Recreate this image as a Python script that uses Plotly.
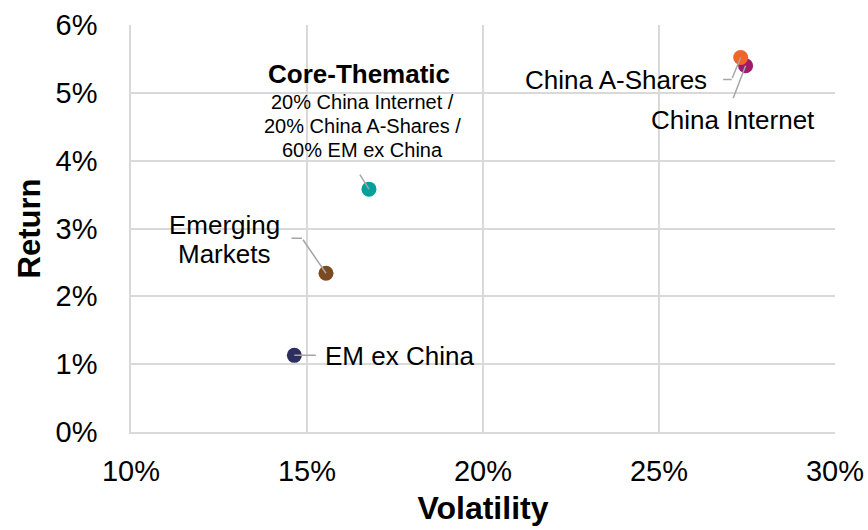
import plotly.graph_objects as go

names = ["EM ex China", "Emerging Markets", "Core-Thematic", "China Internet", "China A-Shares"]
volatility = [14.64, 15.54, 16.76, 27.46, 27.32]
returns = [1.13, 2.34, 3.58, 5.40, 5.52]
colors = ["#2E2D5F", "#7B4A20", "#00A19A", "#9C1C6B", "#F0662A"]

x_ticks = [10, 15, 20, 25, 30]
y_ticks = [0, 1, 2, 3, 4, 5, 6]

FONT = "Liberation Sans, Arial, sans-serif"
LINE = "#A6A6A6"
GRID = "#D9D9D9"

fig = go.Figure()
for n, xv, yv, c in zip(names, volatility, returns, colors):
    fig.add_trace(go.Scatter(x=[xv], y=[yv], mode="markers", name=n,
                             marker=dict(size=15, color=c, line=dict(width=0)),
                             showlegend=False))

pt = {n: (xv, yv) for n, xv, yv in zip(names, volatility, returns)}

def label(n, text, xs, ys, xanchor="center", size=26, align="center"):
    x, y = pt[n]
    fig.add_annotation(x=x, y=y, text=text, showarrow=False, xshift=xs, yshift=ys,
                       xanchor=xanchor, yanchor="middle", align=align,
                       font=dict(family=FONT, size=size, color="#000000"))

def leader(n, ax, ay, xs=0, ys=0):
    x, y = pt[n]
    fig.add_annotation(x=x, y=y, text="", showarrow=True, arrowhead=0, arrowwidth=1.5,
                       arrowcolor=LINE, ax=ax, ay=ay, xshift=xs, yshift=ys,
                       standoff=0, startstandoff=0)

# Core-Thematic
label("Core-Thematic", "<b>Core-Thematic</b>", -10, 115, size=26)
label("Core-Thematic", "20% China Internet /", -6, 87, size=20)
label("Core-Thematic", "20% China A-Shares /", -6, 63, size=20)
label("Core-Thematic", "60% EM ex China", -6, 39, size=20)
leader("Core-Thematic", -10, -16)

# Emerging Markets
label("Emerging Markets", "Emerging", -102, 48)
label("Emerging Markets", "Markets", -102, 19)
leader("Emerging Markets", -24, -35)
leader("Emerging Markets", -12, 0, xs=-24, ys=35)

# EM ex China
label("EM ex China", "EM ex China", 29, -1, xanchor="left")
leader("EM ex China", 23, 0)

# China A-Shares
label("China A-Shares", "China A-Shares", -32, -22, xanchor="right")
leader("China A-Shares", -9, 22)
leader("China A-Shares", -10, 0, xs=-9, ys=-22)

# China Internet
label("China Internet", "China Internet", -13, -54)
leader("China Internet", -13, 34)

fig.update_layout(
    width=868, height=530,
    margin=dict(l=131, r=33, t=25, b=98),
    paper_bgcolor="white", plot_bgcolor="white",
    font=dict(family=FONT, color="#000000"),
    xaxis=dict(range=[10, 30], tickvals=x_ticks, ticktext=[f"{v}%" for v in x_ticks],
               showgrid=True, gridcolor=GRID, gridwidth=1.5, zeroline=False,
               showline=True, linecolor=GRID, linewidth=1.5, automargin=False,
               tickfont=dict(size=29), ticklabelstandoff=12,
               title=dict(text="<b>Volatility</b>", font=dict(size=32), standoff=11)),
    yaxis=dict(range=[0, 6], tickvals=y_ticks, ticktext=[f"{v}%" for v in y_ticks],
               showgrid=True, gridcolor=GRID, gridwidth=1.5, zeroline=False,
               showline=True, linecolor=GRID, linewidth=1.5, automargin=False,
               tickfont=dict(size=29), ticklabelstandoff=26,
               title=dict(text="<b>Return</b>", font=dict(size=31), standoff=6)),
)

fig.write_html("out.html", config={"displayModeBar": False},
               post_script="document.body.style.margin='0';document.body.style.overflow='hidden';")
